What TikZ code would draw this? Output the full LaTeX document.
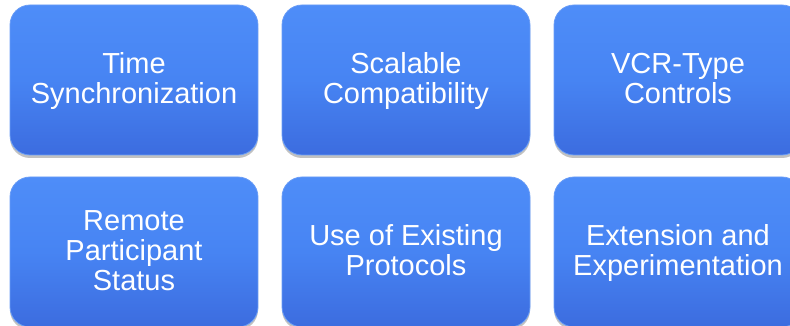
\documentclass[tikz,border=0pt]{standalone}
\usepackage{fontspec}
\setmainfont{Liberation Sans}
\usetikzlibrary{shadows}
\definecolor{boxtop}{HTML}{4E8DF8}
\definecolor{boxmid}{HTML}{4784F3}
\definecolor{boxbot}{HTML}{3C6CDF}
\definecolor{boxedge}{HTML}{6A9DF6}
\newcommand{\bstrut}{\rule[-6.6pt]{0pt}{30pt}}
\tikzset{
  featbox/.style={rectangle, rounded corners=20pt, minimum width=248pt, minimum height=150pt,
    top color=boxtop, bottom color=boxbot, middle color=boxmid, draw=boxedge, line width=0.8pt,
    text=white, align=center, inner sep=0pt,
    font=\fontsize{29}{30}\selectfont,
    drop shadow={shadow xshift=0pt, shadow yshift=-3pt, opacity=0.35, fill=black!70}}
}
\begin{document}
\begin{tikzpicture}[x=1pt,y=1pt]
\useasboundingbox (0,0) rectangle (790,326);
\clip (0,0) rectangle (790,326);
\node[featbox] (ts) at (134,246) {\bstrut Time\\\bstrut Synchronization};
\node[featbox] (sc) at (406,246) {\bstrut Scalable\\\bstrut Compatibility};
\node[featbox] (vcr) at (678,246) {\bstrut VCR-Type\\\bstrut Controls};
\node[featbox] (rps) at (134,74) {\bstrut Remote\\\bstrut Participant\\\bstrut Status};
\node[featbox] (uep) at (406,74) {\bstrut Use of Existing\\\bstrut Protocols};
\node[featbox] (ee) at (678,74) {\bstrut Extension and\\\bstrut Experimentation};
\end{tikzpicture}
\end{document}
